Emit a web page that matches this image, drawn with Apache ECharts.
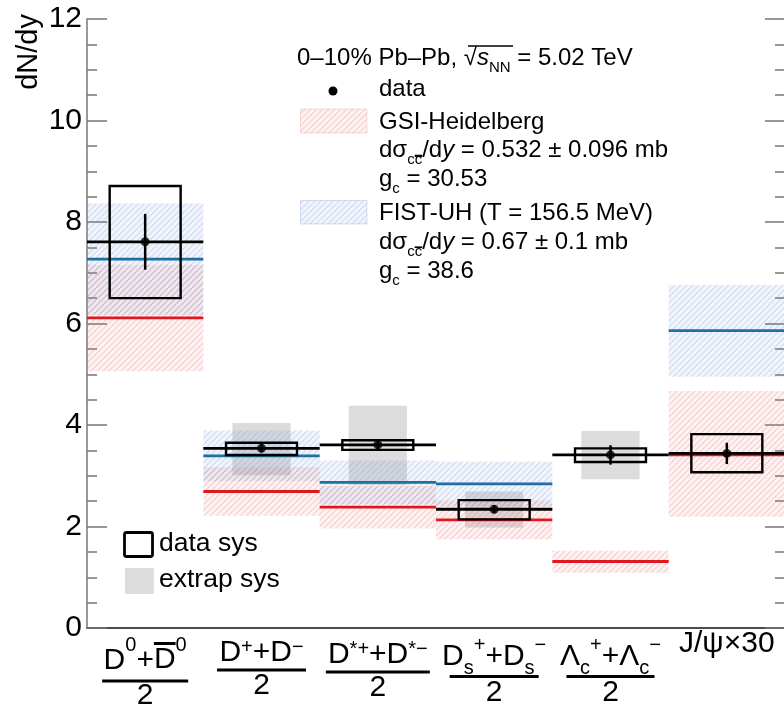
<!DOCTYPE html>
<html><head><meta charset="utf-8">
<script src="https://cdn.jsdelivr.net/npm/echarts@6/dist/echarts.min.js"></script>
<style>html,body{margin:0;padding:0;background:#fff}#c{width:784px;height:705px}</style>
</head><body><div id="c"></div>
<script>
// ---- data ----
const categories = ['D0', 'D+', 'D*+', 'Ds+', 'Lc+', 'J/psi x30'];
const xTickLabels = [
  '{g0|\u200b}\n{n0|D}{sup|0}{n0|+}{ob|D}{sup|0}\n{b0| }\n{d0|2}',
  '{g1|\u200b}\n{n|D}{sup|+}{n|+D}{sup|\u2212}\n{b1| }\n{d|2}',
  '{g2|\u200b}\n{n|D}{sup|*+}{n|+D}{sup|*\u2212}\n{b2| }\n{d|2}',
  '{g3|\u200b}\n{n3|D}{sub3|s}{sup|+}{n3|+D}{sub3|s}{sup|\u2212}\n{b3| }\n{d|2}',
  '{g3|\u200b}\n{n3|\u039b}{sub3|c}{sup|+}{n3|+\u039b}{sub3|c}{sup|\u2212}\n{b4| }\n{d|2}',
  '{g5|\u200b}\n{n|J/\u03c8\u00d730}'
];
const dataValue  = [7.61, 3.54, 3.61, 2.34, 3.41, 3.44];
const statErr    = [0.55, 0.08, 0.08, 0.08, 0.19, 0.21];
const dataSysLow = [6.50, 3.41, 3.51, 2.14, 3.27, 3.07];
const dataSysHigh= [8.71, 3.65, 3.70, 2.52, 3.54, 3.82];
const extrapLow  = [null, 3.01, 2.82, 1.98, 2.93, null];
const extrapHigh = [null, 4.04, 4.38, 2.69, 3.88, null];
const gsiValue   = [6.11, 2.69, 2.38, 2.13, 1.31, 3.41];
const gsiLow     = [5.06, 2.21, 1.96, 1.75, 1.09, 2.19];
const gsiHigh    = [7.16, 3.17, 2.80, 2.51, 1.52, 4.67];
const fistValue  = [7.27, 3.39, 2.87, 2.84, null, 5.86];
const fistLow    = [6.17, 2.89, 2.44, 2.40, null, 4.95];
const fistHigh   = [8.37, 3.89, 3.30, 3.28, null, 6.76];
const yMin = 0, yMax = 12, yStep = 2;

// ---- styling ----
const F = '"Liberation Sans", Arial, Helvetica, sans-serif';
function hatch(bg, line) {
  const c = document.createElement('canvas'); c.width = 6; c.height = 6;
  const g = c.getContext('2d');
  g.fillStyle = bg; g.fillRect(0, 0, 6, 6);
  g.strokeStyle = line; g.lineWidth = 1.1;
  g.beginPath();
  for (const o of [-6, 0, 6]) { g.moveTo(o, 6); g.lineTo(o + 6, 0); }
  g.stroke();
  return c;
}
const redPat = { image: hatch('rgba(245,120,120,0.10)', 'rgba(240,110,110,0.30)'), repeat: 'repeat' };
const bluePat = { image: hatch('rgba(110,150,215,0.10)', 'rgba(110,150,215,0.28)'), repeat: 'repeat' };
const RED = '#dd1a22', BLUE = '#1f6fa3', GRAY = '#dcdcdc';

function rows(lo, hi) { return lo.map((l, i) => l == null ? null : [i, l, hi[i]]).filter(Boolean); }
function boxSeries(name, lo, hi, frac, style, z) {
  return { type: 'custom', name, z, data: rows(lo, hi), encode: { x: 0, y: [1, 2] },
    renderItem(p, api) {
      const i = api.value(0);
      const a = api.coord([i, api.value(2)]), b = api.coord([i, api.value(1)]);
      const w = api.size([1, 0])[0] * frac;
      return { type: 'rect', shape: { x: a[0] - w / 2, y: a[1], width: w, height: b[1] - a[1] }, style };
    } };
}
function binLineSeries(name, vals, color, width, z) {
  return { type: 'custom', name, z, data: vals.map((v, i) => [i, v]).filter(d => d[1] != null), encode: { x: 0, y: 1 },
    renderItem(p, api) {
      const c = api.coord([api.value(0), api.value(1)]);
      const w = api.size([1, 0])[0];
      return { type: 'line', shape: { x1: c[0] - w / 2, y1: c[1], x2: c[0] + w / 2, y2: c[1] }, style: { stroke: color, lineWidth: width } };
    } };
}
const errSeries = { type: 'custom', name: 'stat', z: 9,
  data: dataValue.map((v, i) => [i, v - statErr[i], v + statErr[i]]), encode: { x: 0, y: [1, 2] },
  renderItem(p, api) {
    const a = api.coord([api.value(0), api.value(1)]), b = api.coord([api.value(0), api.value(2)]);
    return { type: 'line', shape: { x1: a[0], y1: a[1], x2: b[0], y2: b[1] }, style: { stroke: '#000', lineWidth: 2.5 } };
  } };

const overlineGrad = new echarts.graphic.LinearGradient(0, 0, 0, 1, [
  { offset: 0, color: '#000' }, { offset: 0.085, color: '#000' },
  { offset: 0.085, color: 'rgba(0,0,0,0)' }, { offset: 1, color: 'rgba(0,0,0,0)' }]);
const smallOverline = new echarts.graphic.LinearGradient(0, 0, 0, 1, [
  { offset: 0, color: '#000' }, { offset: 0.2, color: '#000' },
  { offset: 0.2, color: 'rgba(0,0,0,0)' }, { offset: 1, color: 'rgba(0,0,0,0)' }]);

const base = { fontFamily: F, color: '#000' };
const xRich = {
  n:  { ...base, fontSize: 30, height: 32, lineHeight: 27, verticalAlign: 'bottom' },
  n0: { ...base, fontSize: 30, height: 32, lineHeight: 37, verticalAlign: 'bottom' },
  ob: { ...base, fontSize: 30, height: 35, lineHeight: 37, verticalAlign: 'bottom', backgroundColor: overlineGrad },
  n3: { ...base, fontSize: 30, height: 32, lineHeight: 35, verticalAlign: 'top' },
  sup: { ...base, fontSize: 20, height: 10, lineHeight: 10, verticalAlign: 'top' },
  sub3: { ...base, fontSize: 20, height: 14, lineHeight: 14, verticalAlign: 'bottom' },
  d:  { ...base, fontSize: 30, lineHeight: 30 },
  d0: { ...base, fontSize: 30, lineHeight: 22 },
  g0: { fontSize: 1, lineHeight: 12 },
  g1: { fontSize: 1, lineHeight: 14 },
  g2: { fontSize: 1, lineHeight: 16 },
  g3: { fontSize: 1, lineHeight: 12.5 },
  g5: { fontSize: 1, lineHeight: 5 },
  b0: { fontSize: 1, width: 86, height: 3, lineHeight: 8, backgroundColor: '#000' },
  b1: { fontSize: 1, width: 89, height: 3, lineHeight: 2, backgroundColor: '#000' },
  b2: { fontSize: 1, width: 104, height: 3, lineHeight: 2, backgroundColor: '#000' },
  b3: { fontSize: 1, width: 89, height: 3, lineHeight: 2, backgroundColor: '#000' },
  b4: { fontSize: 1, width: 88, height: 3, lineHeight: 2, backgroundColor: '#000' }
};

const lg = {
  t:  { fontFamily: F, fill: '#000', fontSize: 24, height: 28, lineHeight: 28, verticalAlign: 'bottom' },
  ti: { fontFamily: F, fill: '#000', fontSize: 24, fontStyle: 'italic', height: 28, lineHeight: 28, verticalAlign: 'bottom' },
  sb: { fontFamily: F, fill: '#000', fontSize: 15, height: 10, lineHeight: 10, verticalAlign: 'bottom' },
  sbo:{ fontFamily: F, fill: '#000', fontSize: 15, height: 10, lineHeight: 10, verticalAlign: 'bottom', backgroundColor: smallOverline }
};
function legendText(x, baseline, text) {
  return { type: 'text', x, y: baseline - 22.3, z: 100, style: { text, rich: lg, align: 'left', verticalAlign: 'top', fontFamily: F, fontSize: 24, fill: '#000' } };
}
const legendLines = [
  [297, 66.7, '{t|0\u201310% Pb\u2013Pb, \u221a}{ti|s}{sb|NN}{t| = 5.02 TeV}'],
  [379, 97.3, '{t|data}'],
  [379, 130.7, '{t|GSI-Heidelberg}'],
  [379, 159, '{t|d\u03c3}{sb|c}{sbo|c}{t|/d}{ti|y}{t| = 0.532 \u00b1 0.096 mb}'],
  [379, 188, '{t|g}{sb|c}{t| = 30.53}'],
  [379, 221.7, '{t|FIST-UH (T = 156.5 MeV)}'],
  [379, 250.7, '{t|d\u03c3}{sb|c}{sbo|c}{t|/d}{ti|y}{t| = 0.67 \u00b1 0.1 mb}'],
  [379, 280, '{t|g}{sb|c}{t| = 38.6}']
];

const axisGray = '#777';
const chart = echarts.init(document.getElementById('c'), null, { renderer: 'canvas' });
chart.setOption({
  animation: false,
  backgroundColor: '#fff',
  grid: { left: 87, right: -1, top: 19, bottom: 77, containLabel: false, outerBoundsMode: 'none' },
  xAxis: [
    { type: 'category', data: categories, position: 'bottom', boundaryGap: true,
      axisLine: { lineStyle: { color: axisGray, width: 1.5 } },
      axisTick: { inside: true, length: 18, alignWithLabel: true, interval: 0, lineStyle: { color: '#555', width: 1.3 } },
      axisLabel: { interval: 0, margin: 0, formatter: (v, idx) => xTickLabels[idx], rich: xRich },
      splitLine: { show: false } },
    { type: 'category', data: categories, position: 'top', boundaryGap: true,
      axisLine: { lineStyle: { color: '#333', width: 1.5 } },
      axisTick: { inside: true, length: 19, alignWithLabel: true, interval: 0, lineStyle: { color: '#555', width: 1.3 } },
      axisLabel: { show: false }, splitLine: { show: false } }
  ],
  yAxis: [
    { type: 'value', min: yMin, max: yMax, interval: yStep, position: 'left',
      axisLine: { show: true, lineStyle: { color: axisGray, width: 1.5 } },
      axisTick: { show: true, inside: true, length: 20, lineStyle: { color: axisGray, width: 1.5 } },
      minorTick: { show: true, splitNumber: 4, length: 10, lineStyle: { color: axisGray, width: 1.5 } },
      splitLine: { show: false }, minorSplitLine: { show: false },
      axisLabel: { fontSize: 30, color: '#000', fontFamily: F, margin: 5 } },
    { type: 'value', min: yMin, max: yMax, interval: yStep, position: 'right',
      axisLine: { show: true, lineStyle: { color: axisGray, width: 1.5 } },
      axisTick: { show: true, inside: true, length: 20, lineStyle: { color: axisGray, width: 1.5 } },
      minorTick: { show: true, splitNumber: 4, length: 10, lineStyle: { color: axisGray, width: 1.5 } },
      splitLine: { show: false }, axisLabel: { show: false } }
  ],
  series: [
    boxSeries('extrap sys', extrapLow, extrapHigh, 0.5, { fill: GRAY }, 1),
    boxSeries('GSI band', gsiLow, gsiHigh, 1, { fill: redPat }, 2),
    boxSeries('FIST band', fistLow, fistHigh, 1, { fill: bluePat }, 3),
    binLineSeries('GSI-Heidelberg', gsiValue, RED, 2.8, 4),
    binLineSeries('FIST-UH', fistValue, BLUE, 2.8, 5),
    binLineSeries('data line', dataValue, '#000', 2.8, 6),
    boxSeries('data sys', dataSysLow, dataSysHigh, 0.61, { fill: 'none', stroke: '#000', lineWidth: 2.4 }, 7),
    errSeries,
    { type: 'scatter', name: 'data', z: 10, symbol: 'circle', symbolSize: 9,
      itemStyle: { color: '#000' }, data: dataValue.map((v, i) => [i, v]) }
  ],
  graphic: [
    { type: 'text', x: 29, y: 14, rotation: Math.PI / 2, z: 100,
      style: { text: 'dN/dy', fontSize: 29, fontFamily: F, fill: '#000', align: 'right', verticalAlign: 'middle' } },
    ...legendLines.map(l => legendText(l[0], l[1], l[2])),
    { type: 'line', z: 100, shape: { x1: 468, y1: 46, x2: 513, y2: 46 }, style: { stroke: '#000', lineWidth: 1.3 } },
    { type: 'circle', z: 100, shape: { cx: 333, cy: 91, r: 4.5 }, style: { fill: '#000' } },
    { type: 'rect', z: 100, shape: { x: 300.5, y: 109, width: 66.5, height: 24 }, style: { fill: redPat, stroke: 'rgba(240,150,150,0.35)', lineWidth: 1 } },
    { type: 'rect', z: 100, shape: { x: 300.5, y: 200.5, width: 66.5, height: 23.5 }, style: { fill: bluePat, stroke: 'rgba(140,170,220,0.35)', lineWidth: 1 } },
    { type: 'rect', z: 100, shape: { x: 124.5, y: 532.5, width: 28, height: 24, r: 2 }, style: { fill: 'none', stroke: '#000', lineWidth: 2.8 } },
    { type: 'rect', z: 100, shape: { x: 125, y: 568, width: 28.7, height: 26 }, style: { fill: GRAY } },
    { type: 'text', z: 100, x: 159, y: 543.8, style: { text: 'data sys', fontSize: 26.5, fontFamily: F, fill: '#000', align: 'left', verticalAlign: 'middle' } },
    { type: 'text', z: 100, x: 159, y: 579.8, style: { text: 'extrap sys', fontSize: 26.5, fontFamily: F, fill: '#000', align: 'left', verticalAlign: 'middle' } }
  ]
});
</script>
</body></html>
